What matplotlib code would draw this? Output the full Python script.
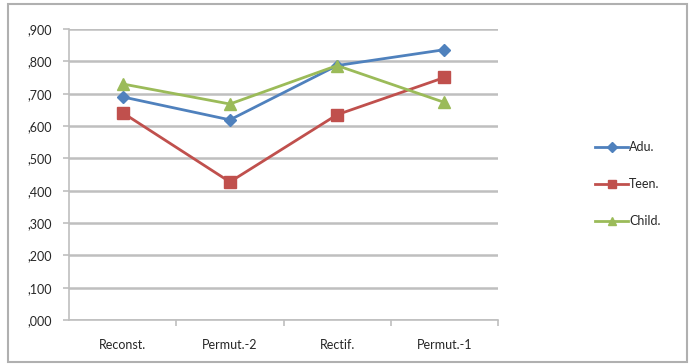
import matplotlib.pyplot as plt
from matplotlib.ticker import FuncFormatter
from matplotlib.patches import Rectangle

# Data
categories = ["Reconst.", "Permut.-2", "Rectif.", "Permut.-1"]
adu = [0.690, 0.619, 0.787, 0.836]
teen = [0.641, 0.427, 0.635, 0.750]
child = [0.730, 0.668, 0.787, 0.673]

blue = "#4F81BD"
red = "#C0504D"
green = "#9BBB59"
grid_col = "#BFBFBF"
text_col = "#262626"

plt.rcParams['font.family'] = ['Lato', 'DejaVu Sans']

fig = plt.figure(figsize=(6.89, 3.64), dpi=100)
fig.patch.set_facecolor("white")

# outer chart frame
fig.patches.append(Rectangle((8 / 689, 1 - 362 / 364), 679 / 689, 358 / 364,
                             transform=fig.transFigure, fill=False,
                             edgecolor="#B0B0B0", linewidth=1.5))

ax = fig.add_axes([69 / 689, 1 - 320 / 364, (498 - 69) / 689, (320 - 29) / 364])

x = list(range(len(categories)))
ax.plot(x, adu, color=blue, linewidth=2, marker="D", markersize=6, label="Adu.", zorder=3)
ax.plot(x, teen, color=red, linewidth=2, marker="s", markersize=8, label="Teen.", zorder=3)
ax.plot(x, child, color=green, linewidth=2, marker="^", markersize=8, label="Child.", zorder=3)

ax.set_xlim(-0.5, len(categories) - 0.5)
ax.set_ylim(0, 0.9)
ax.set_yticks([i / 10 for i in range(10)])
ax.yaxis.set_major_formatter(FuncFormatter(lambda v, p: "," + f"{v:.3f}".split(".")[1]))
ax.grid(axis="y", color=grid_col, linewidth=1.8)
ax.set_axisbelow(True)

for s in ["top", "right"]:
    ax.spines[s].set_visible(False)
for s in ["left", "bottom"]:
    ax.spines[s].set_color(grid_col)
    ax.spines[s].set_linewidth(1.2)

ax.set_xticks(x)
ax.set_xticklabels(categories)
ax.set_xticks([i + 0.5 for i in range(len(categories))], minor=True)
ax.tick_params(axis="x", which="major", length=0, pad=14, labelsize=9, colors=text_col)
ax.tick_params(axis="x", which="minor", length=4, color=grid_col, width=1.2)
ax.tick_params(axis="y", length=4, color=grid_col, width=1.2, pad=8, labelsize=9, colors=text_col)

fig.legend(loc="center left", bbox_to_anchor=(584 / 689, 1 - 184 / 364), frameon=False,
           fontsize=9, handlelength=2.6, handletextpad=0.1, labelspacing=2.0,
           labelcolor=text_col, markerscale=0.8)

fig.savefig("out.png", dpi=100, facecolor="white")
